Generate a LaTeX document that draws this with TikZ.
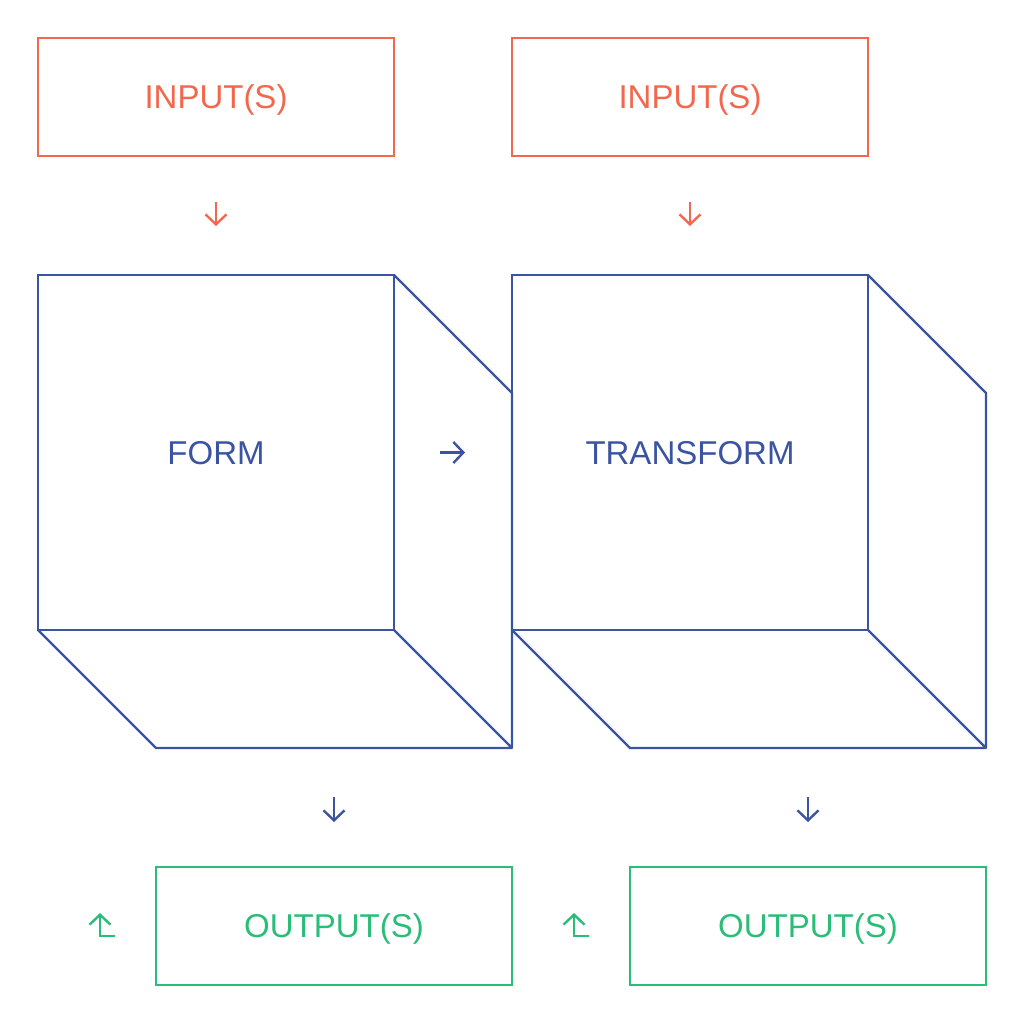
\documentclass[tikz,border=0pt]{standalone}
\usepackage{fontspec}
\setmainfont{Liberation Sans}
\usetikzlibrary{arrows.meta}

\definecolor{inred}{RGB}{242,104,78}
\definecolor{formblue}{RGB}{58,84,162}
\definecolor{outgreen}{RGB}{42,189,120}

\begin{document}
\begin{tikzpicture}[x=0.5pt,y=-0.5pt,line width=1.2pt,
        font=\fontsize{16.5}{19}\selectfont]
            \tikzstyle{box}=[draw,rectangle,minimum width=178pt,minimum height=59pt,inner sep=0pt,outer sep=0pt,text height=11.8pt,text depth=0pt]
            \tikzstyle{i}=[box,color=inred,text=inred]
            \tikzstyle{o}=[box,color=outgreen,text=outgreen]
            \tikzstyle{f}=[draw,rectangle,color=formblue,text=formblue,minimum width=178pt,minimum height=177.5pt,inner sep=0pt,outer sep=0pt,text height=11.8pt,text depth=0pt]
            \tikzstyle{a}=[-{Straight Barb[length=5pt,width=10.5pt]}]
            \useasboundingbox (0,0) rectangle (1024,1024);

            % input boxes
            \node [i] (in1) at (216,97) {INPUT(S)};
            \node [i] (in2) at (690,97) {INPUT(S)};

            % cubes
            \node [f] (form) at (216,452.5) {FORM};
            \node [f] (trans) at (690,452.5) {TRANSFORM};
            \draw [formblue,line join=round] (form.north east) -- ++(118,118) -- ++(0,355)
              -- ++(-356,0) -- (form.south west) (form.south east) -- ++(118,118);
            \draw [formblue,line join=round] (trans.north east) -- ++(118,118) -- ++(0,355)
              -- ++(-356,0) -- (trans.south west) (trans.south east) -- ++(118,118);

            % output boxes
            \node [o] (out1) at (334,926) {OUTPUT(S)};
            \node [o] (out2) at (808,926) {OUTPUT(S)};

            % arrows
            \draw [a,inred,shorten <=23pt,shorten >=24.5pt] (in1) -- (form);
            \draw [a,inred,shorten <=23pt,shorten >=24.5pt] (in2) -- (trans);
            \draw [a,formblue,shorten <=23pt,shorten >=23.5pt] (form) -- (trans);
            \draw [a,formblue,shorten <=83.5pt,shorten >=22.5pt] (out1 |- form.south) -- (out1);
            \draw [a,formblue,shorten <=83.5pt,shorten >=22.5pt] (out2 |- trans.south) -- (out2);
            \draw [a,outgreen] ([shift={(-41,10)}]out1.west) -| ++(-15,-23);
            \draw [a,outgreen] ([shift={(-41,10)}]out2.west) -| ++(-15,-23);
        \end{tikzpicture}
\end{document}
